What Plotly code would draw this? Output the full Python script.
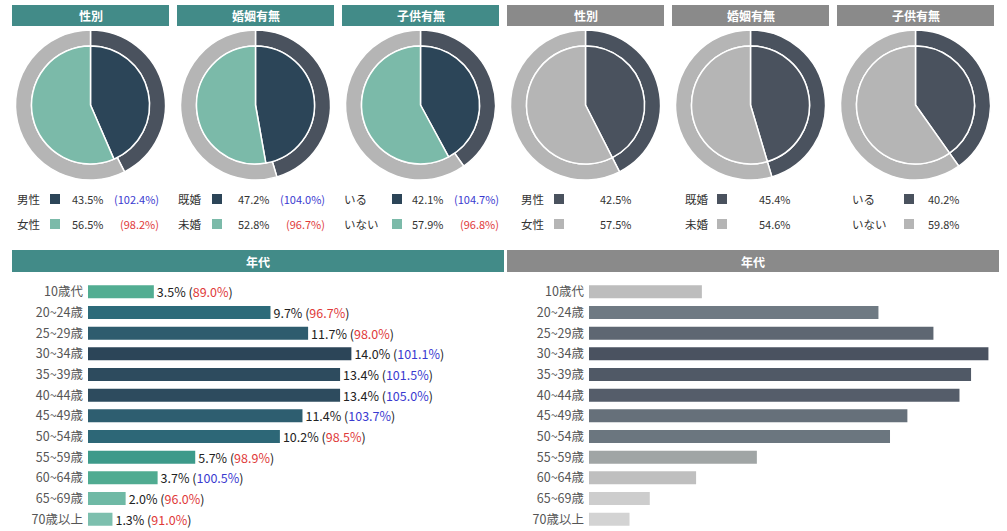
import plotly.graph_objects as go

W, H = 1007, 531

# ---- data ----
pie_titles = ['性別', '婚姻有無', '子供有無']
pie_labels = [['男性', '女性'], ['既婚', '未婚'], ['いる', 'いない']]
target_share = [[43.5, 56.5], [47.2, 52.8], [42.1, 57.9]]
target_index = [[102.4, 98.2], [104.0, 96.7], [104.7, 96.8]]
base_share = [[42.5, 57.5], [45.4, 54.6], [40.2, 59.8]]

age_title = '年代'
age_groups = ['10歳代', '20~24歳', '25~29歳', '30~34歳', '35~39歳', '40~44歳',
              '45~49歳', '50~54歳', '55~59歳', '60~64歳', '65~69歳', '70歳以上']
age_target = [3.5, 9.7, 11.7, 14.0, 13.4, 13.4, 11.4, 10.2, 5.7, 3.7, 2.0, 1.3]
age_index = [89.0, 96.7, 98.0, 101.1, 101.5, 105.0, 103.7, 98.5, 98.9, 100.5, 96.0, 91.0]
age_base = [3.9, 10.0, 11.9, 13.8, 13.2, 12.8, 11.0, 10.4, 5.8, 3.7, 2.1, 1.4]

# ---- style ----
TEAL_HEAD = '#428b88'
GRAY_HEAD = '#8a8a8a'
NAVY = '#2c4558'
MINT = '#7bbaa9'
SLATE = '#4a525e'
LGRAY = '#b5b5b5'
BLUE = '#3a3ad0'
RED = '#e03a3a'
FONT = 'Noto Sans CJK JP'

teal_scale = [[0.0, '#7dbfae'], [0.17, '#52ad92'], [0.35, '#3d9a8a'],
              [0.66, '#2d6b7a'], [0.82, '#2e5c6e'], [1.0, '#2c4558']]
gray_scale = [[0.0, '#d3d3d3'], [0.2, '#bdbdbd'], [0.36, '#9fa4a4'],
              [0.69, '#6f7a83'], [0.85, '#5e6772'], [1.0, '#4a5260']]


def px(x):
    return x / W


def py(y):
    return 1 - y / H


fig = go.Figure()
shapes = []
annotations = []


def text_at(x, y, text, size=11, color='#333', xanchor='left'):
    annotations.append(dict(xref='paper', yref='paper', x=px(x), y=py(y), text=text,
                            xanchor=xanchor, yanchor='middle', showarrow=False,
                            font=dict(size=size, color=color, family=FONT)))


def header(x0, x1, y0, y1, color, text):
    shapes.append(dict(type='rect', xref='paper', yref='paper', x0=px(x0), x1=px(x1),
                       y0=py(y1), y1=py(y0), fillcolor=color, line=dict(width=0)))
    text_at((x0 + x1) / 2, (y0 + y1) / 2 + 0.5, '<b>' + text + '</b>', size=12,
            color='white', xanchor='center')


panel_left = [12, 177, 342, 507, 672, 837]
panel_w = 157
cy, r_in, r_out = 105, 59, 75
# legend column offsets (label, square, value, paren-right) per panel
leg_off = [(3, 38, 58, 149), (-1, 35, 59, 150), (0, 50, 68, 159),
           (12, 47, 91, None), (11, 45, 85, None), (13, 67, 89, None)]
row_y = [199, 224]

for p in range(6):
    L = panel_left[p]
    k = p % 3
    left = p < 3
    header(L, L + panel_w, 5, 26, TEAL_HEAD if left else GRAY_HEAD, pie_titles[k])
    cx = L + panel_w / 2
    inner = target_share[k] if left else base_share[k]
    inner_col = [NAVY, MINT] if left else [SLATE, LGRAY]
    fig.add_trace(go.Pie(
        values=base_share[k], labels=pie_labels[k], sort=False, direction='clockwise',
        hole=r_in / r_out, textinfo='none', showlegend=False, hoverinfo='skip',
        marker=dict(colors=[SLATE, LGRAY], line=dict(color='white', width=1.5)),
        domain=dict(x=[px(cx - r_out), px(cx + r_out)], y=[py(cy + r_out), py(cy - r_out)])))
    fig.add_trace(go.Pie(
        values=inner, labels=pie_labels[k], sort=False, direction='clockwise',
        textinfo='none', showlegend=False, hoverinfo='skip',
        marker=dict(colors=inner_col, line=dict(color='white', width=1.5)),
        domain=dict(x=[px(cx - r_in), px(cx + r_in)], y=[py(cy + r_in), py(cy - r_in)])))

    o_lab, o_sq, o_val, o_par = leg_off[p]
    for i in range(2):
        y = row_y[i]
        text_at(L + o_lab, y, pie_labels[k][i], size=11.5)
        shapes.append(dict(type='rect', xref='paper', yref='paper',
                           x0=px(L + o_sq), x1=px(L + o_sq + 10), y0=py(y + 5), y1=py(y - 5),
                           fillcolor=inner_col[i], line=dict(width=0)))
        text_at(L + o_val, y, f'{inner[i]:.1f}%')
        if left:
            idx = target_index[k][i]
            text_at(L + o_par, y, f'({idx:.1f}%)', color=BLUE if idx >= 100 else RED,
                    xanchor='right')

# ---- age bars ----
header(12, 504, 250, 272, TEAL_HEAD, age_title)
header(507, 999, 250, 272, GRAY_HEAD, age_title)

bar_text = []
for v, idx in zip(age_target, age_index):
    c = BLUE if idx >= 100 else RED
    bar_text.append(f"{v:.1f}% (<span style='color:{c}'>{idx:.1f}%</span>)")

fig.add_trace(go.Bar(
    x=age_target, y=age_groups, orientation='h', xaxis='x', yaxis='y',
    marker=dict(color=age_target, colorscale=teal_scale, cmin=1.3, cmax=14.0, line=dict(width=0)),
    text=bar_text, textposition='outside', cliponaxis=False, constraintext='none',
    textfont=dict(size=12.5, color='#222', family=FONT), showlegend=False, hoverinfo='skip'))
fig.add_trace(go.Bar(
    x=age_base, y=age_groups, orientation='h', xaxis='x2', yaxis='y2',
    marker=dict(color=age_base, colorscale=gray_scale, cmin=1.4, cmax=13.8, line=dict(width=0)),
    showlegend=False, hoverinfo='skip'))

yax = dict(autorange='reversed', showgrid=False, zeroline=False, showline=False, ticks='',
           tickfont=dict(size=12.5, color='#555', family=FONT), ticklabelstandoff=4,
           domain=[py(529.5), py(281.5)])
xax = dict(showgrid=False, zeroline=False, showline=False, showticklabels=False, ticks='')

fig.update_layout(
    width=W, height=H, margin=dict(l=0, r=0, t=0, b=0),
    paper_bgcolor='white', plot_bgcolor='white',
    font=dict(family=FONT),
    bargap=0.37,
    xaxis=dict(xax, domain=[px(88), px(500)], range=[0, 21.9], anchor='y'),
    yaxis=dict(yax, anchor='x'),
    xaxis2=dict(xax, domain=[px(589), px(1000)], range=[0, 14.2], anchor='y2'),
    yaxis2=dict(yax, anchor='x2'),
    shapes=shapes, annotations=annotations)

fig.write_html('out.html', config={'displayModeBar': False},
               post_script="document.body.style.margin='0';")
